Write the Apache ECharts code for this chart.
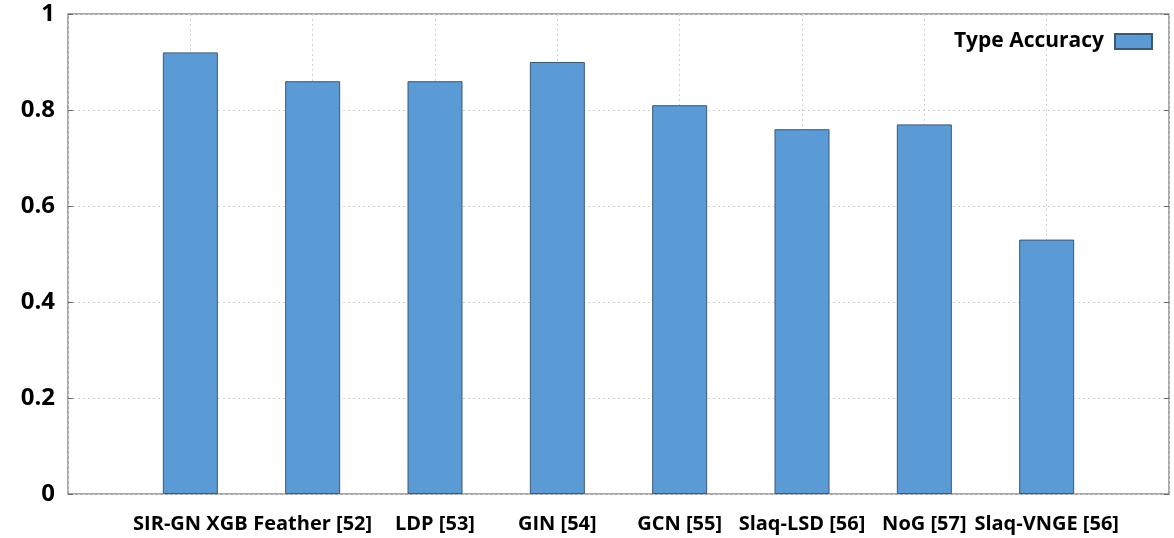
<!DOCTYPE html>
<html>
<head>
<meta charset="utf-8">
<script src="https://cdn.jsdelivr.net/npm/echarts@6/dist/echarts.min.js"></script>
<style>
  html, body { margin: 0; padding: 0; background: #fff; }
  #main { width: 1174px; height: 538px; }
</style>
</head>
<body>
<div id="main"></div>
<script>
// data
var methods = ['SIR-GN XGB', 'Feather [52]', 'LDP [53]', 'GIN [54]', 'GCN [55]', 'Slaq-LSD [56]', 'NoG [57]', 'Slaq-VNGE [56]'];
var accuracy = [0.92, 0.86, 0.86, 0.90, 0.81, 0.76, 0.77, 0.53];
var yTicks = [0, 0.2, 0.4, 0.6, 0.8, 1];

// bars sit at x = 1..8 on a 0..9 axis (gnuplot-like layout)
var points = accuracy.map(function (v, i) { return [i + 1, v]; });

var labelFont = { fontFamily: 'Open Sans', fontWeight: 'bold', color: '#000' };

var option = {
    animation: false,
    backgroundColor: '#fff',
    grid: {
        left: 68, right: 5, top: 14, bottom: 44,
        show: true,
        borderColor: '#8c8c8c',
        borderWidth: 1.5
    },
    legend: {
        right: 16,
        top: 26,
        align: 'right',
        icon: 'rect',
        itemWidth: 37,
        itemHeight: 15,
        itemGap: 10,
        textStyle: Object.assign({ fontSize: 21, padding: [0, 6, 0, 0] }, labelFont),
        data: ['Type Accuracy']
    },
    xAxis: {
        type: 'value',
        min: 0,
        max: 9,
        interval: 1,
        axisLine: { show: false },
        axisTick: { show: false },
        splitLine: { show: true, lineStyle: { color: '#d0d0d0', type: [2, 3], width: 1 } },
        axisLabel: Object.assign({
            fontSize: 20,
            margin: 20,
            formatter: function (v) { return methods[v - 1] || ''; }
        }, labelFont)
    },
    yAxis: [{
        type: 'value',
        min: 0,
        max: 1,
        interval: 0.2,
        axisLine: { show: false },
        axisTick: { show: true, inside: true, length: 5, lineStyle: { color: '#666' } },
        splitLine: { show: true, lineStyle: { color: '#d0d0d0', type: [2, 3], width: 1 } },
        axisLabel: Object.assign({
            fontSize: 24,
            margin: 13,
            formatter: function (v) {
                var t = yTicks.filter(function (k) { return Math.abs(k - v) < 1e-6; })[0];
                return t === undefined ? '' : String(t);
            }
        }, labelFont)
    }, {
        type: 'value',
        position: 'right',
        min: 0,
        max: 1,
        interval: 0.2,
        axisLine: { show: false },
        axisTick: { show: true, inside: true, length: 5, lineStyle: { color: '#666' } },
        splitLine: { show: false },
        axisLabel: { show: false }
    }],
    series: [{
        name: 'Type Accuracy',
        type: 'bar',
        barWidth: 55,
        itemStyle: { color: '#5b9bd5', borderColor: '#3d5873', borderWidth: 1 },
        data: points
    }]
};

var myChart = echarts.init(document.getElementById('main'));
myChart.setOption(option);
</script>
</body>
</html>
